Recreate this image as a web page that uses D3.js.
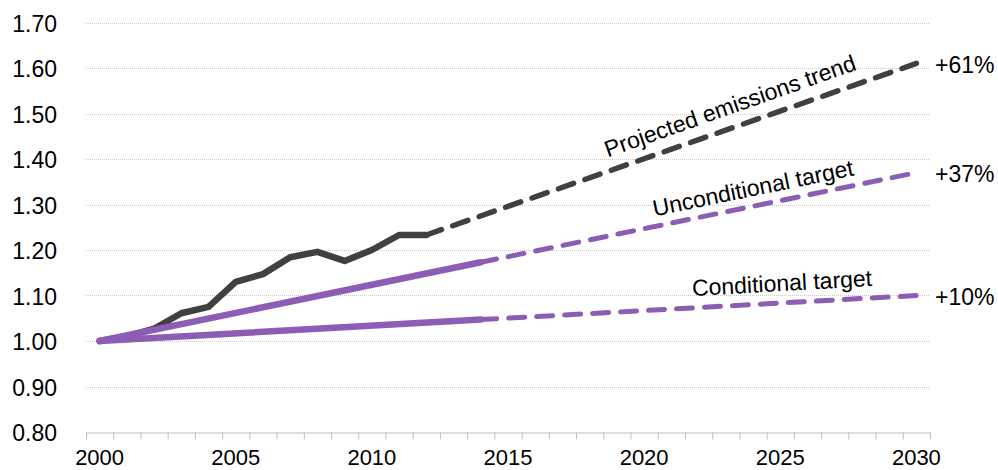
<!DOCTYPE html>
<html>
<head>
<meta charset="utf-8">
<script src="https://cdn.jsdelivr.net/npm/d3@7"></script>
<style>
  html, body { margin: 0; padding: 0; background: #fff; }
  svg { display: block; font-family: "Liberation Sans", Arial, sans-serif; }
</style>
</head>
<body>
<svg id="chart" width="998" height="470"></svg>
<script>
// ---- data ----
const xLabelYears = [2000, 2005, 2010, 2015, 2020, 2025, 2030];
const yTicks = [0.80, 0.90, 1.00, 1.10, 1.20, 1.30, 1.40, 1.50, 1.60, 1.70];

const historicYears = [2000, 2001, 2002, 2003, 2004, 2005, 2006, 2007, 2008, 2009, 2010, 2011, 2012];
const historicValues = [1.00, 1.01, 1.027, 1.061, 1.075, 1.13, 1.147, 1.184, 1.196, 1.176, 1.20, 1.233, 1.233];

const projectedYears = [2012, 2030];
const projectedValues = [1.233, 1.61];

const uncondSolidYears = [2000, 2014];
const uncondSolidValues = [1.00, 1.173];
const uncondDashYears = [2014, 2030];
const uncondDashValues = [1.173, 1.37];

const condSolidYears = [2000, 2014];
const condSolidValues = [1.00, 1.047];
const condDashYears = [2014, 2030];
const condDashValues = [1.047, 1.10];

const seriesLabels = ["Projected emissions trend", "Unconditional target", "Conditional target"];
const endLabels = ["+61%", "+37%", "+10%"];
const endValues = [1.61, 1.37, 1.10];

// ---- layout ----
const svg = d3.select("#chart");
const plotLeft = 86, plotRight = 930, plotTop = 22.5, plotBottom = 432;
const dark = "#404040", purple = "#8b5db4";
const fontSize = 23;

const x = d3.scaleLinear().domain([1999.5, 2030.5]).range([plotLeft, plotRight]);
const y = d3.scaleLinear().domain([0.80, 1.70]).range([plotBottom, plotTop]);

// gridlines
svg.append("g").selectAll("line")
  .data(yTicks.filter(v => v > 0.801))
  .join("line")
  .attr("x1", plotLeft).attr("x2", plotRight)
  .attr("y1", d => Math.round(y(d)) + 0.5).attr("y2", d => Math.round(y(d)) + 0.5)
  .attr("stroke", "#c8c8c8").attr("stroke-width", 1).attr("stroke-dasharray", "1,1");

// y labels
svg.append("g").selectAll("text")
  .data(yTicks)
  .join("text")
  .attr("x", 57).attr("y", d => y(d) + 1)
  .attr("text-anchor", "end").attr("dominant-baseline", "central")
  .attr("font-size", fontSize).attr("fill", "#000")
  .text(d => d.toFixed(2));

// x axis (category boundary ticks)
const xAxis = d3.axisBottom(x)
  .tickValues(d3.range(1999.5, 2031, 1))
  .tickFormat("")
  .tickSize(7)
  .tickSizeOuter(0);
const gx = svg.append("g").attr("transform", `translate(0,${Math.round(plotBottom) + 0.5})`).call(xAxis);
gx.select(".domain").attr("stroke", "#bfbfbf");
gx.selectAll(".tick line").attr("stroke", "#bfbfbf");

svg.append("g").selectAll("text")
  .data(xLabelYears)
  .join("text")
  .attr("x", d => x(d)).attr("y", 465)
  .attr("text-anchor", "middle")
  .attr("font-size", fontSize - 1).attr("fill", "#000")
  .text(d => d);

// lines
const line = d3.line().x(d => x(d[0])).y(d => y(d[1]));
const zip = (a, b) => a.map((v, i) => [v, b[i]]);

function drawLine(data, color, width, dashed) {
  const p = svg.append("path")
    .datum(data)
    .attr("d", line)
    .attr("fill", "none")
    .attr("stroke", color)
    .attr("stroke-width", width)
    .attr("stroke-linejoin", "round")
    .attr("stroke-linecap", "round");
  if (dashed) p.attr("stroke-dasharray", "16,12");
}

drawLine(zip(historicYears, historicValues), dark, 6.5, false);
drawLine(zip(projectedYears, projectedValues), dark, 5.5, true);
drawLine(zip(uncondSolidYears, uncondSolidValues), purple, 6.5, false);
drawLine(zip(uncondDashYears, uncondDashValues), purple, 5, true);
drawLine(zip(condSolidYears, condSolidValues), purple, 6.5, false);
drawLine(zip(condDashYears, condDashValues), purple, 5, true);

// series labels along lines
const labelPos = [
  { cx: 730, cy: 106, ang: -19.4 },
  { cx: 753, cy: 188, ang: -11.6 },
  { cx: 782, cy: 283, ang: -3.2 }
];
svg.append("g").selectAll("text")
  .data(seriesLabels)
  .join("text")
  .attr("transform", (d, i) => `translate(${labelPos[i].cx},${labelPos[i].cy}) rotate(${labelPos[i].ang})`)
  .attr("text-anchor", "middle").attr("dominant-baseline", "central")
  .attr("font-size", fontSize).attr("fill", "#000")
  .text(d => d);

// end labels
svg.append("g").selectAll("text")
  .data(endLabels)
  .join("text")
  .attr("x", 935).attr("y", (d, i) => y(endValues[i]) + 1.5)
  .attr("text-anchor", "start").attr("dominant-baseline", "central")
  .attr("font-size", fontSize).attr("fill", "#000")
  .text(d => d);
</script>
</body>
</html>
